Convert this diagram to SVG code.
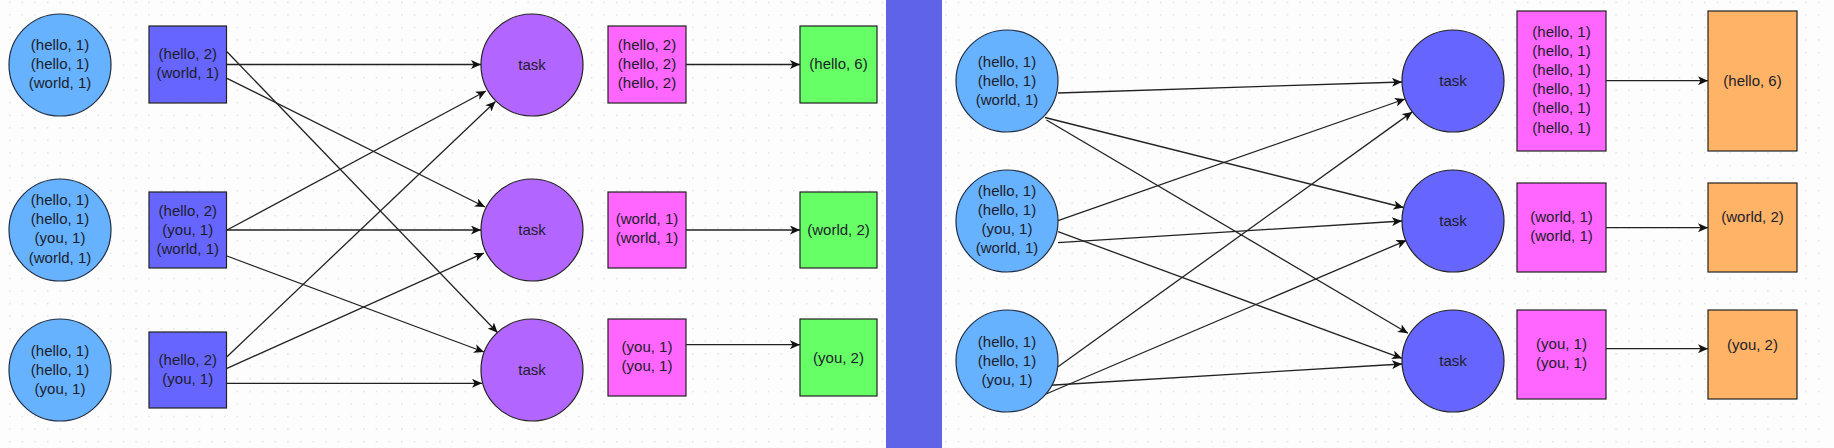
<svg xmlns="http://www.w3.org/2000/svg" width="1834" height="448" viewBox="0 0 1834 448">
  <defs>
    <pattern id="grid" x="8.9" y="1.6" width="12.65" height="12.55" patternUnits="userSpaceOnUse">
      <circle cx="0.8" cy="0.8" r="0.8" fill="#dcdcdc"/>
    </pattern>
    <marker id="arr" viewBox="0 0 10 9" refX="10" refY="4.5" markerWidth="10" markerHeight="9" markerUnits="userSpaceOnUse" orient="auto">
      <path d="M0,0 L10,4.5 L0,9 L2.6,4.5 z" fill="#111"/>
    </marker>
    <style>
      .t { font-family: "Liberation Sans", Arial, sans-serif; font-size: 15px; fill: #1d1d2b; text-anchor: middle; }
      .src { fill: #66B2FF; stroke: #1f2d44; stroke-width: 1.2; }
      .part { fill: #6666FF; stroke: #222; stroke-width: 1.2; }
      .taskL { fill: #B266FF; stroke: #222; stroke-width: 1.2; }
      .taskR { fill: #6666FF; stroke: #222; stroke-width: 1.2; }
      .pink { fill: #FF66FF; stroke: #222; stroke-width: 1.2; }
      .green { fill: #66FF66; stroke: #222; stroke-width: 1.2; }
      .orange { fill: #FFB366; stroke: #222; stroke-width: 1.2; }
      .e { stroke: #222; stroke-width: 1.3; fill: none; marker-end: url(#arr); }
    </style>
  </defs>

  <rect x="0" y="0" width="1834" height="448" fill="#fdfdfd"/>
  <rect x="0" y="0" width="1828" height="448" fill="url(#grid)"/>
  <rect x="886" y="0" width="56" height="448" fill="#5F63E8"/>

  <g id="connectors">
    <!-- left panel -->
    <line class="e" x1="227" y1="64.5" x2="481" y2="64.5"/>
    <line class="e" x1="227" y1="51.7" x2="497.6" y2="332.7"/>
    <line class="e" x1="227" y1="78.3" x2="485" y2="207"/>
    <line class="e" x1="227" y1="230" x2="486" y2="91"/>
    <line class="e" x1="227" y1="230" x2="481" y2="230"/>
    <line class="e" x1="227" y1="256" x2="484" y2="352"/>
    <line class="e" x1="227" y1="356.7" x2="495.5" y2="101.5"/>
    <line class="e" x1="227" y1="368.3" x2="484" y2="253"/>
    <line class="e" x1="227" y1="383.3" x2="482" y2="383.3"/>
    <line class="e" x1="686" y1="64.5" x2="800" y2="64.5"/>
    <line class="e" x1="686" y1="230" x2="800" y2="230"/>
    <line class="e" x1="686" y1="344.7" x2="800" y2="344.7"/>
    <!-- right panel -->
    <line class="e" x1="1058" y1="93" x2="1402" y2="82"/>
    <line class="e" x1="1045" y1="117.5" x2="1403.5" y2="207.5"/>
    <line class="e" x1="1046.5" y1="120" x2="1408" y2="333.3"/>
    <line class="e" x1="1058" y1="220.7" x2="1405" y2="99"/>
    <line class="e" x1="1058" y1="242.7" x2="1402" y2="221"/>
    <line class="e" x1="1058" y1="231.7" x2="1402" y2="358.3"/>
    <line class="e" x1="1058" y1="366.7" x2="1412.3" y2="111.9"/>
    <line class="e" x1="1046" y1="394" x2="1406.5" y2="240.3"/>
    <line class="e" x1="1046" y1="385.5" x2="1402" y2="364"/>
    <line class="e" x1="1606" y1="80.7" x2="1708" y2="80.7"/>
    <line class="e" x1="1606" y1="227.7" x2="1708" y2="227.7"/>
    <line class="e" x1="1606" y1="348.7" x2="1708" y2="348.7"/>
  </g>

  <!-- LEFT PANEL -->
  <g id="srcL1">
    <circle class="src" cx="60" cy="65" r="51"/>
    <text class="t"><tspan x="60" y="50">(hello, 1)</tspan><tspan x="60" y="69">(hello, 1)</tspan><tspan x="60" y="88">(world, 1)</tspan></text>
  </g>
  <g id="srcL2">
    <circle class="src" cx="60" cy="230" r="51"/>
    <text class="t"><tspan x="60" y="205">(hello, 1)</tspan><tspan x="60" y="224">(hello, 1)</tspan><tspan x="60" y="243.3">(you, 1)</tspan><tspan x="60" y="262.5">(world, 1)</tspan></text>
  </g>
  <g id="srcL3">
    <circle class="src" cx="60" cy="370" r="51"/>
    <text class="t"><tspan x="60" y="355.7">(hello, 1)</tspan><tspan x="60" y="375">(hello, 1)</tspan><tspan x="60" y="394">(you, 1)</tspan></text>
  </g>

  <g id="partL1">
    <rect class="part" x="149" y="26" width="77.5" height="77"/>
    <text class="t"><tspan x="187.8" y="59.3">(hello, 2)</tspan><tspan x="187.8" y="78.3">(world, 1)</tspan></text>
  </g>
  <g id="partL2">
    <rect class="part" x="149" y="192" width="77.5" height="76"/>
    <text class="t"><tspan x="187.8" y="215.7">(hello, 2)</tspan><tspan x="187.8" y="235">(you, 1)</tspan><tspan x="187.8" y="254.3">(world, 1)</tspan></text>
  </g>
  <g id="partL3">
    <rect class="part" x="149" y="332" width="77.5" height="76"/>
    <text class="t"><tspan x="187.8" y="365">(hello, 2)</tspan><tspan x="187.8" y="384">(you, 1)</tspan></text>
  </g>

  <g id="taskL1">
    <circle class="taskL" cx="532" cy="65" r="51"/>
    <text class="t" x="532" y="69.5">task</text>
  </g>
  <g id="taskL2">
    <circle class="taskL" cx="532" cy="230" r="51"/>
    <text class="t" x="532" y="234.5">task</text>
  </g>
  <g id="taskL3">
    <circle class="taskL" cx="532" cy="370" r="51"/>
    <text class="t" x="532" y="374.5">task</text>
  </g>

  <g id="pinkL1">
    <rect class="pink" x="608" y="26" width="78" height="77"/>
    <text class="t"><tspan x="647" y="50">(hello, 2)</tspan><tspan x="647" y="69.3">(hello, 2)</tspan><tspan x="647" y="88.3">(hello, 2)</tspan></text>
  </g>
  <g id="pinkL2">
    <rect class="pink" x="608" y="192" width="78" height="76"/>
    <text class="t"><tspan x="647" y="224.3">(world, 1)</tspan><tspan x="647" y="243.3">(world, 1)</tspan></text>
  </g>
  <g id="pinkL3">
    <rect class="pink" x="608" y="319" width="78" height="77"/>
    <text class="t"><tspan x="647" y="352.3">(you, 1)</tspan><tspan x="647" y="371.3">(you, 1)</tspan></text>
  </g>

  <g id="greenL1">
    <rect class="green" x="800" y="26" width="77" height="77"/>
    <text class="t" x="838.5" y="69.3">(hello, 6)</text>
  </g>
  <g id="greenL2">
    <rect class="green" x="800" y="192" width="77" height="76"/>
    <text class="t" x="838.5" y="235">(world, 2)</text>
  </g>
  <g id="greenL3">
    <rect class="green" x="800" y="319" width="77" height="77"/>
    <text class="t" x="838.5" y="362.7">(you, 2)</text>
  </g>

  <!-- RIGHT PANEL -->
  <g id="srcR1">
    <circle class="src" cx="1007" cy="81" r="51"/>
    <text class="t"><tspan x="1007" y="66.7">(hello, 1)</tspan><tspan x="1007" y="85.7">(hello, 1)</tspan><tspan x="1007" y="105">(world, 1)</tspan></text>
  </g>
  <g id="srcR2">
    <circle class="src" cx="1007" cy="221" r="51"/>
    <text class="t"><tspan x="1007" y="196">(hello, 1)</tspan><tspan x="1007" y="215">(hello, 1)</tspan><tspan x="1007" y="234.3">(you, 1)</tspan><tspan x="1007" y="253.3">(world, 1)</tspan></text>
  </g>
  <g id="srcR3">
    <circle class="src" cx="1007" cy="361" r="51"/>
    <text class="t"><tspan x="1007" y="346.7">(hello, 1)</tspan><tspan x="1007" y="365.7">(hello, 1)</tspan><tspan x="1007" y="385">(you, 1)</tspan></text>
  </g>

  <g id="taskR1">
    <circle class="taskR" cx="1453" cy="81" r="51"/>
    <text class="t" x="1453" y="85.5">task</text>
  </g>
  <g id="taskR2">
    <circle class="taskR" cx="1453" cy="221" r="51"/>
    <text class="t" x="1453" y="225.5">task</text>
  </g>
  <g id="taskR3">
    <circle class="taskR" cx="1453" cy="361" r="51"/>
    <text class="t" x="1453" y="365.7">task</text>
  </g>

  <g id="pinkR1">
    <rect class="pink" x="1517" y="11" width="89" height="140"/>
    <text class="t"><tspan x="1561.5" y="37.3">(hello, 1)</tspan><tspan x="1561.5" y="56.3">(hello, 1)</tspan><tspan x="1561.5" y="75.3">(hello, 1)</tspan><tspan x="1561.5" y="94.3">(hello, 1)</tspan><tspan x="1561.5" y="113.3">(hello, 1)</tspan><tspan x="1561.5" y="132.6">(hello, 1)</tspan></text>
  </g>
  <g id="pinkR2">
    <rect class="pink" x="1517" y="183" width="89" height="89"/>
    <text class="t"><tspan x="1561.5" y="222.3">(world, 1)</tspan><tspan x="1561.5" y="241">(world, 1)</tspan></text>
  </g>
  <g id="pinkR3">
    <rect class="pink" x="1517" y="310" width="89" height="89"/>
    <text class="t"><tspan x="1561.5" y="349.3">(you, 1)</tspan><tspan x="1561.5" y="368.3">(you, 1)</tspan></text>
  </g>

  <g id="orangeR1">
    <rect class="orange" x="1708" y="11" width="89" height="140"/>
    <text class="t" x="1752.5" y="85.7">(hello, 6)</text>
  </g>
  <g id="orangeR2">
    <rect class="orange" x="1708" y="183" width="89" height="89"/>
    <text class="t" x="1752.5" y="222.3">(world, 2)</text>
  </g>
  <g id="orangeR3">
    <rect class="orange" x="1708" y="310" width="89" height="89"/>
    <text class="t" x="1752.5" y="350">(you, 2)</text>
  </g>
</svg>
